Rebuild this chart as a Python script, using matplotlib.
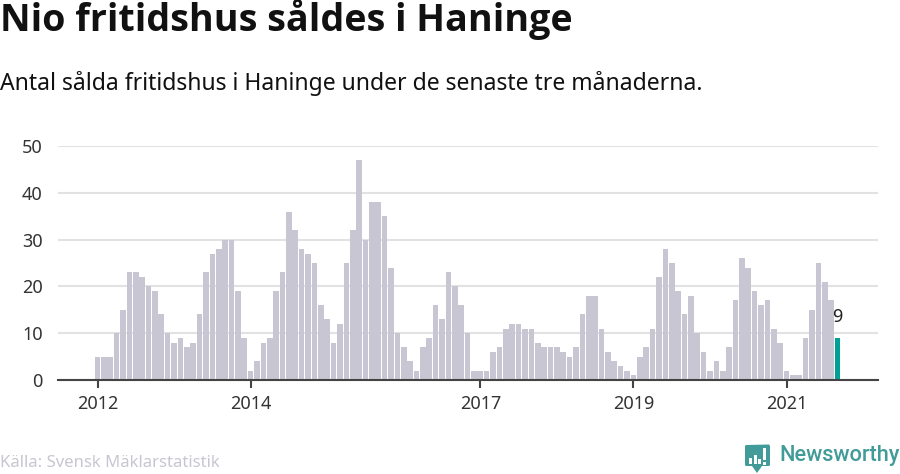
import matplotlib
matplotlib.use('Agg')
import matplotlib.pyplot as plt
from matplotlib.patches import Polygon, Rectangle

plt.rcParams['font.family'] = ['Noto Sans', 'DejaVu Sans']

W, H = 900, 474

# monthly sales, Jan 2012 - Sep 2021
sales_2012 = [5, 5, 5, 10, 15, 23, 23, 22, 20, 19, 14, 10]
sales_2013 = [8, 9, 7, 8, 14, 23, 27, 28, 30, 30, 19, 9]
sales_2014 = [2, 4, 8, 9, 19, 23, 36, 32, 28, 27, 25, 16]
sales_2015 = [13, 8, 12, 25, 32, 47, 30, 38, 38, 35, 24, 10]
sales_2016 = [7, 4, 2, 7, 9, 16, 13, 23, 20, 16, 10, 2]
sales_2017 = [2, 2, 6, 7, 11, 12, 12, 11, 11, 8, 7, 7]
sales_2018 = [7, 6, 5, 7, 14, 18, 18, 11, 6, 4, 3, 2]
sales_2019 = [1, 5, 7, 11, 22, 28, 25, 19, 14, 18, 10, 6]
sales_2020 = [2, 4, 2, 7, 17, 26, 24, 19, 16, 17, 11, 8]
sales_2021 = [2, 1, 1, 9, 15, 25, 21, 17, 9]

tick_years = [2012, 2014, 2017, 2019, 2021]
y_ticks = [0, 10, 20, 30, 40, 50]

values = (sales_2012 + sales_2013 + sales_2014 + sales_2015 + sales_2016
          + sales_2017 + sales_2018 + sales_2019 + sales_2020 + sales_2021)
months = list(range(len(values)))
colors = ['#c7c6d2'] * (len(values) - 1) + ['#00a096']

fig = plt.figure(figsize=(W / 100, H / 100), dpi=100)
ax = fig.add_axes([58 / W, 1 - 380 / H, 820 / W, 234 / H])

step = 6.38
ax.set_xlim((58 - 97.5) / step, (878 - 97.5) / step)
ax.set_ylim(0, 50)
ax.bar(months, values, width=0.88, color=colors, zorder=2, linewidth=0)
ax.annotate(str(values[-1]), (months[-1], values[-1]), xytext=(0, 11.5),
            textcoords='offset points', ha='center', va='baseline',
            fontsize=13, color='#222222', zorder=3)

ax.set_yticks(y_ticks)
ax.set_xticks([(y - 2012) * 12 for y in tick_years])
ax.set_xticklabels([str(y) for y in tick_years])
ax.grid(axis='y', color='#e2e2e2', linewidth=1.5, zorder=1)
ax.tick_params(axis='y', length=0, pad=11, labelsize=13, labelcolor='#333333')
ax.tick_params(axis='x', length=6, width=1.5, color='#444444', pad=5,
               labelsize=13, labelcolor='#333333')
for name in ['top', 'left', 'right']:
    ax.spines[name].set_visible(False)
ax.spines['bottom'].set_color('#444444')
ax.spines['bottom'].set_linewidth(1.5)
ax.spines['bottom'].set_zorder(4)

fig.text(0, 1 - 19 / H, 'Nio fritidshus såldes i Haninge', fontsize=27.1,
         fontweight='bold', color='#111111', ha='left', va='center',
         family=['Open Sans', 'DejaVu Sans'])
fig.text(0, 1 - 83 / H, 'Antal sålda fritidshus i Haninge under de senaste tre månaderna.',
         fontsize=16.5, color='#111111', ha='left', va='center')
fig.text(0, 1 - 463 / H, 'Källa: Svensk Mäklarstatistik', fontsize=12,
         color='#c7c6d2', ha='left', va='center')

# logo, drawn in pixel coordinates
def px(x, y):
    return (x / W, 1 - y / H)

logo_color = '#419b98'
badge = [px(746, 445), px(769, 444.5), px(770, 446), px(770, 465), px(769, 466),
         px(762, 466), px(757, 473), px(752, 466), px(746, 466), px(745, 465),
         px(745, 446)]
fig.add_artist(Polygon(badge, closed=True, transform=fig.transFigure,
                       facecolor=logo_color, edgecolor='none'))
for x0, y0, y1 in [(749, 458, 464), (753.5, 455, 464), (758, 459, 464),
                   (763, 448, 460), (763, 461.5, 464.5)]:
    left, bottom = px(x0, y1)
    _, ytop = px(x0, y0)
    fig.add_artist(Rectangle((left, bottom), 3 / W, ytop - bottom,
                             transform=fig.transFigure, facecolor='white',
                             edgecolor='none'))
fig.text(779 / W, 1 - 456 / H, 'Newsworthy', fontsize=15.7, color=logo_color,
         fontweight='medium', ha='left', va='center', family=['Roboto', 'DejaVu Sans'])

fig.savefig('out.png', dpi=100)
